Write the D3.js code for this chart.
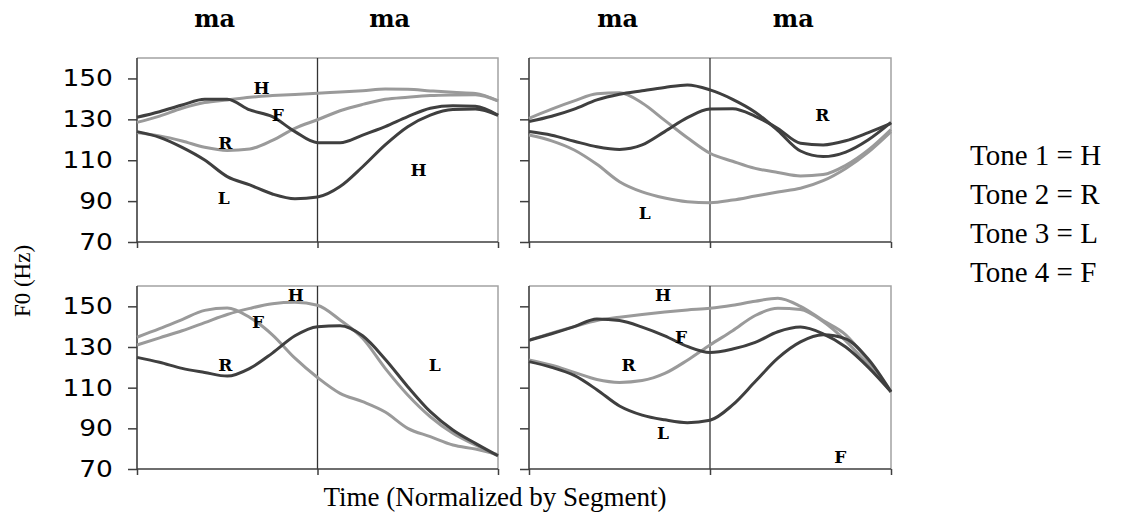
<!DOCTYPE html>
<html>
<head>
<meta charset="utf-8">
<script src="https://cdn.jsdelivr.net/npm/d3@7"></script>
<style>
  body { margin: 0; background: #fff; }
  svg { display: block; }
</style>
</head>
<body>
<div id="chart"></div>
<script>
// normalized time: 0-1 first "ma", 1-2 second "ma"
const timeSteps = [0, 0.125, 0.25, 0.375, 0.5, 0.625, 0.75, 0.875, 1,
  1.125, 1.25, 1.375, 1.5, 1.625, 1.75, 1.875, 2];
const yTicks = [70, 90, 110, 130, 150];
const syllables = ["ma", "ma"];
const legendItems = ["Tone 1 = H", "Tone 2 = R", "Tone 3 = L", "Tone 4 = F"];

// F0 values (Hz) for each panel
const topLeftH = [128.5, 131.6, 135.4, 138.2, 139.5, 140.8, 141.6, 142.2, 142.7, 143.4, 144, 144.8, 144.7, 143.9, 143.2, 142.7, 139];
const topLeftR = [123.5, 121.9, 119.4, 116.3, 114.8, 115.5, 119.7, 125.6, 129.8, 134.2, 137.3, 139.8, 140.8, 141.6, 141.9, 142, 139];
const topLeftL = [124, 121.2, 116.3, 110.1, 102, 97.9, 93.5, 91.2, 92, 97.1, 106.8, 117.5, 126.4, 132.1, 134.8, 135, 132];
const topLeftF = [131, 133.7, 137, 139.8, 139.8, 134.6, 131.3, 124, 118.6, 118.6, 122.3, 126.4, 131.3, 135.4, 136.6, 136.4, 132];

const topRightH = [128.9, 131.5, 135, 139.5, 142.3, 144, 145.6, 146.8, 144.4, 139.8, 133.5, 124.5, 114.5, 111.8, 114, 120, 128.5];
const topRightR = [124, 122.2, 119.3, 116.6, 115.3, 117.5, 124, 130.8, 135, 135.2, 131.5, 125.5, 118.3, 117.5, 119.5, 123.5, 128];
const topRightL = [122.3, 119.5, 115, 108, 99.5, 94.5, 91.5, 89.7, 89.2, 90.5, 92.5, 94.5, 96.3, 100, 106, 114, 124];
const topRightF = [130.5, 135, 139, 142.5, 143, 138, 129.5, 121, 113.4, 109.5, 106, 104, 102.3, 103, 107.5, 115, 125];

const bottomLeftH = [131, 134.5, 138, 142, 146, 149, 151.3, 152, 150.5, 143.3, 134.3, 119.5, 106.4, 95.7, 87.6, 81.8, 76.5];
const bottomLeftR = [124.9, 122.5, 119.5, 117.5, 115.7, 119.5, 127, 135.5, 140, 140.5, 135.5, 124, 110.5, 98.2, 89.2, 82.6, 76.5];
const bottomLeftF = [134.8, 139, 143.5, 148, 149.2, 144.5, 136, 124.5, 115, 107.2, 103.1, 98, 90, 85.9, 81.8, 79.8, 77];

const bottomRightH = [133.3, 136.8, 140, 143, 144.6, 146, 147.2, 148.2, 149, 150.5, 152.5, 154, 150, 143, 136, 123, 108];
const bottomRightR = [123.6, 121, 117.5, 114, 112.6, 113.5, 117, 123.5, 131, 138, 145.5, 149, 148.5, 142.5, 133, 121, 108];
const bottomRightL = [122.8, 120, 116, 109, 101, 96.5, 94.2, 92.8, 94, 101.5, 113, 124.5, 132.5, 136, 134, 124, 108];
const bottomRightF = [133.3, 136.5, 140, 143.8, 143, 139.8, 135.5, 130.3, 127.3, 129, 132.3, 137.5, 139.8, 136.5, 130, 120, 108];

// tone letters written inside the panels (t, Hz)
const topLeftLabels = [
  { text: "H", t: 0.69, v: 145.3 }, { text: "F", t: 0.78, v: 132.1 },
  { text: "R", t: 0.49, v: 118.4 }, { text: "L", t: 0.48, v: 91.5 },
  { text: "H", t: 1.56, v: 105.2 }
];
const topRightLabels = [
  { text: "L", t: 0.64, v: 84.2 }, { text: "R", t: 1.62, v: 132.1 }
];
const bottomLeftLabels = [
  { text: "H", t: 0.88, v: 155.6 }, { text: "F", t: 0.67, v: 142.3 },
  { text: "R", t: 0.49, v: 121.2 }, { text: "L", t: 1.65, v: 121.2 }
];
const bottomRightLabels = [
  { text: "H", t: 0.74, v: 155.6 }, { text: "F", t: 0.84, v: 134.9 },
  { text: "R", t: 0.55, v: 121.2 }, { text: "L", t: 0.74, v: 87.7 },
  { text: "F", t: 1.72, v: 76 }
];

// where the "ma" heads sit over each panel (in t units)
const syllableLeftPos = [0.43, 1.40];
const syllableRightPos = [0.49, 1.46];

var width = 1130, height = 529;
var dark = "#3f3f3f", light = "#9a9a9a";

var svg = d3.select("#chart").append("svg")
  .attr("width", width)
  .attr("height", height);

var panels = [
  { x0: 137, x1: 498, y0: 58, y1: 242, labelsOn: true,
    lines: [[topLeftH, light], [topLeftR, light], [topLeftL, dark], [topLeftF, dark]],
    tones: topLeftLabels },
  { x0: 529, x1: 891, y0: 58, y1: 242, labelsOn: false,
    lines: [[topRightF, light], [topRightL, light], [topRightH, dark], [topRightR, dark]],
    tones: topRightLabels },
  { x0: 137, x1: 498, y0: 286, y1: 469, labelsOn: true,
    lines: [[bottomLeftH, light], [bottomLeftF, light], [bottomLeftR, dark]],
    tones: bottomLeftLabels },
  { x0: 529, x1: 891, y0: 286, y1: 469, labelsOn: false,
    lines: [[bottomRightH, light], [bottomRightR, light], [bottomRightL, dark], [bottomRightF, dark]],
    tones: bottomRightLabels }
];

panels.forEach(function (p) {
  var x = d3.scaleLinear().domain([0, 2]).range([p.x0, p.x1]);
  var y = d3.scaleLinear().domain([70, 160]).range([p.y1, p.y0]);
  var g = svg.append("g");

  // gray frame on top and right
  g.append("path")
    .attr("d", `M${p.x0},${p.y0}H${p.x1}V${p.y1}`)
    .attr("fill", "none")
    .attr("stroke", "#a3a3a3")
    .attr("stroke-width", 1.5);

  // y axis
  var yAxis = g.append("g")
    .attr("transform", `translate(${p.x0},0)`)
    .call(d3.axisLeft(y).tickValues(yTicks).tickSize(9).tickPadding(0)
      .tickFormat(p.labelsOn ? d3.format("d") : () => ""));
  yAxis.select(".domain").remove();
  yAxis.selectAll(".tick line").attr("stroke", dark).attr("stroke-width", 1.5);
  yAxis.selectAll(".tick text")
    .attr("x", -21)
    .attr("transform", "scale(1.15,1)")
    .attr("font-family", "'DejaVu Sans', Verdana, sans-serif")
    .attr("font-size", 23)
    .attr("fill", "#000");

  // x axis ticks
  var xAxis = g.append("g")
    .attr("transform", `translate(0,${p.y1})`)
    .call(d3.axisBottom(x).tickValues([0, 1, 2]).tickSize(6).tickFormat(""));
  xAxis.select(".domain").remove();
  xAxis.selectAll(".tick line").attr("stroke", dark).attr("stroke-width", 1.5);

  // segment divider
  g.append("line")
    .attr("x1", x(1)).attr("x2", x(1))
    .attr("y1", p.y0).attr("y2", p.y1)
    .attr("stroke", "#333")
    .attr("stroke-width", 1.3);

  // left and bottom axis lines
  g.append("path")
    .attr("d", `M${p.x0},${p.y0}V${p.y1}H${p.x1}`)
    .attr("fill", "none")
    .attr("stroke", dark)
    .attr("stroke-width", 1.6);

  var line = d3.line()
    .x((d, i) => x(timeSteps[i]))
    .y(d => y(d))
    .curve(d3.curveMonotoneX);

  g.append("g")
    .selectAll("path")
    .data(p.lines)
    .enter().append("path")
    .attr("d", d => line(d[0]))
    .attr("fill", "none")
    .attr("stroke", d => d[1])
    .attr("stroke-width", 3)
    .attr("stroke-linejoin", "round");

  g.append("g")
    .attr("font-family", "'DejaVu Serif', serif")
    .attr("font-weight", "bold")
    .attr("font-size", 17)
    .attr("text-anchor", "middle")
    .selectAll("text")
    .data(p.tones)
    .enter().append("text")
    .attr("x", d => x(d.t))
    .attr("y", d => y(d.v))
    .attr("dy", "0.36em")
    .text(d => d.text);
});

// "ma" syllable heads
var xTopLeft = d3.scaleLinear().domain([0, 2]).range([137, 498]);
var xTopRight = d3.scaleLinear().domain([0, 2]).range([529, 891]);
var heads = syllableLeftPos.map((t, i) => ({ text: syllables[i], x: xTopLeft(t) }))
  .concat(syllableRightPos.map((t, i) => ({ text: syllables[i], x: xTopRight(t) })));

svg.append("g")
  .attr("font-family", "'DejaVu Serif', serif")
  .attr("font-weight", "bold")
  .attr("font-size", 24)
  .attr("text-anchor", "middle")
  .selectAll("text")
  .data(heads)
  .enter().append("text")
  .attr("x", d => d.x)
  .attr("y", 27)
  .text(d => d.text);

// axis titles
svg.append("text")
  .attr("transform", "translate(30,281) rotate(-90)")
  .attr("text-anchor", "middle")
  .attr("font-family", "'Liberation Serif', 'Times New Roman', serif")
  .attr("font-size", 23)
  .text("F0 (Hz)");

svg.append("text")
  .attr("x", 495)
  .attr("y", 506)
  .attr("text-anchor", "middle")
  .attr("font-family", "'Liberation Serif', 'Times New Roman', serif")
  .attr("font-size", 27)
  .text("Time (Normalized by Segment)");

// tone key
svg.append("g")
  .attr("font-family", "'Liberation Serif', 'Times New Roman', serif")
  .attr("font-size", 29)
  .selectAll("text")
  .data(legendItems)
  .enter().append("text")
  .attr("x", 970)
  .attr("y", (d, i) => 165 + i * 39)
  .text(d => d);
</script>
</body>
</html>
